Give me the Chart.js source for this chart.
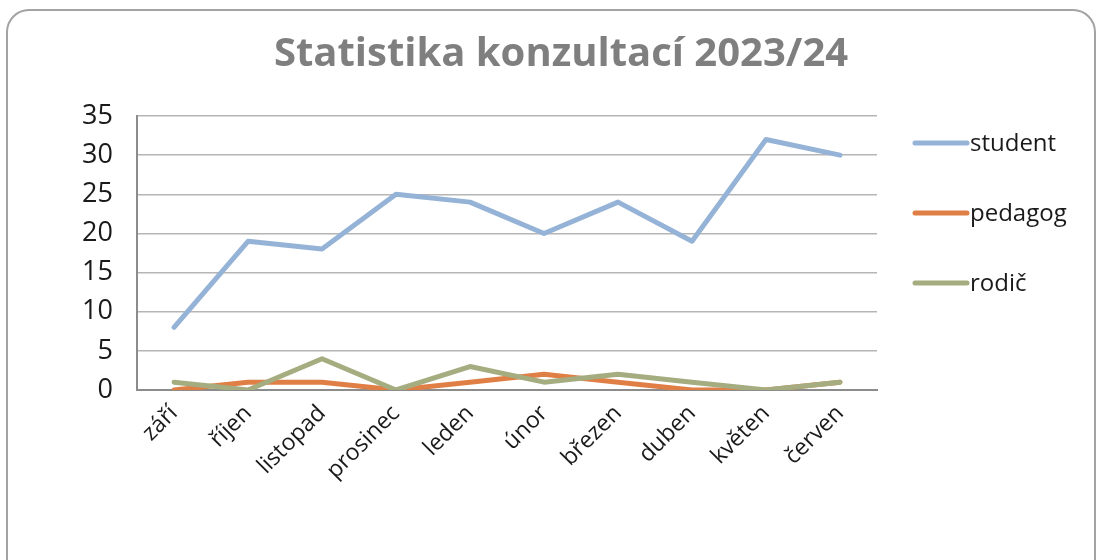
<!DOCTYPE html>
<html>
<head>
<meta charset="utf-8">
<script src="https://cdn.jsdelivr.net/npm/chart.js@4/dist/chart.umd.min.js"></script>
<style>
  html, body { margin: 0; padding: 0; background: #ffffff; }
  #wrap { position: relative; width: 1099px; height: 560px; }
</style>
</head>
<body>
<div id="wrap"><canvas id="c" width="1099" height="560"></canvas></div>
<script>
const chartTitle = "Statistika konzultací 2023/24";
const categories = ["září", "říjen", "listopad", "prosinec", "leden", "únor", "březen", "duben", "květen", "červen"];
const seriesNames = ["student", "pedagog", "rodič"];
const studentValues = [8, 19, 18, 25, 24, 20, 24, 19, 32, 30];
const pedagogValues = [0, 1, 1, 0, 1, 2, 1, 0, 0, 1];
const rodicValues = [1, 0, 4, 0, 3, 1, 2, 1, 0, 1];
const yTicks = [0, 5, 10, 15, 20, 25, 30, 35];

const colors = ["#95b3d7", "#e07f45", "#a5ad80"];
const FONT = "'Open Sans', Lato, sans-serif";

const framePlugin = {
  id: "frame",
  beforeDraw(chart) {
    const ctx = chart.ctx;
    ctx.save();
    ctx.fillStyle = "#ffffff";
    ctx.fillRect(0, 0, chart.width, chart.height);
    ctx.beginPath();
    ctx.roundRect(7, 10, 1088, 620, 22);
    ctx.lineWidth = 2;
    ctx.strokeStyle = "#a3a3a3";
    ctx.stroke();
    ctx.restore();
  }
};

const legendPlugin = {
  id: "sideLegend",
  afterDraw(chart) {
    const ctx = chart.ctx;
    const area = chart.chartArea;
    ctx.save();
    chart.data.datasets.forEach((ds, i) => {
      const y = area.top + 27 + i * 70;
      const x0 = area.right + 38;
      ctx.beginPath();
      ctx.moveTo(x0, y);
      ctx.lineTo(x0 + 52, y);
      ctx.lineWidth = 5;
      ctx.lineCap = "round";
      ctx.strokeStyle = ds.borderColor;
      ctx.stroke();
      ctx.fillStyle = "#1a1a1a";
      ctx.font = "24px " + FONT;
      ctx.textBaseline = "middle";
      ctx.textAlign = "left";
      ctx.fillText(ds.label, x0 + 55, y + 1);
    });
    ctx.restore();
  }
};

const seriesValues = [studentValues, pedagogValues, rodicValues];

new Chart(document.getElementById("c"), {
  type: "line",
  data: {
    labels: categories,
    datasets: seriesNames.map((name, i) => ({
      label: name,
      data: seriesValues[i],
      borderColor: colors[i],
      backgroundColor: colors[i],
      borderWidth: 5,
      pointRadius: 0,
      pointHoverRadius: 0,
      tension: 0,
      borderCapStyle: "round",
      borderJoinStyle: "round",
      order: i === 0 ? 3 : (i === 1 ? 2 : 1)
    }))
  },
  options: {
    responsive: false,
    animation: false,
    events: [],
    layout: { padding: { left: 30, right: 7, top: 31, bottom: 8 } },
    plugins: {
      legend: { display: false },
      tooltip: { enabled: false },
      title: {
        display: true,
        text: chartTitle,
        color: "#7f7f7f",
        font: { family: FONT, size: 40, weight: "bold" },
        padding: { top: 0, bottom: 37 }
      }
    },
    scales: {
      x: {
        offset: true,
        grid: { display: false, drawTicks: false },
        border: { display: true, color: "#8c8c8c", width: 2 },
        ticks: {
          color: "#1a1a1a",
          font: { family: FONT, size: 23 },
          minRotation: 45,
          maxRotation: 45,
          padding: 10,
          autoSkip: false
        },
        afterFit(s) { s.height = 162; }
      },
      y: {
        min: 0,
        max: 35,
        afterBuildTicks(s) { s.ticks = yTicks.map(v => ({ value: v })); },
        grid: { color: "#b5b5b5", lineWidth: 1.5, drawTicks: false },
        border: { display: true, color: "#8c8c8c", width: 2 },
        ticks: {
          color: "#1a1a1a",
          font: { family: FONT, size: 27 },
          padding: 24
        },
        afterFit(s) { s.width = 107; }
      },
      yRight: {
        position: "right",
        display: true,
        grid: { display: false, drawTicks: false },
        border: { display: false },
        ticks: { display: false },
        afterFit(s) { s.width = 215; }
      }
    }
  },
  plugins: [framePlugin, legendPlugin]
});
</script>
</body>
</html>
